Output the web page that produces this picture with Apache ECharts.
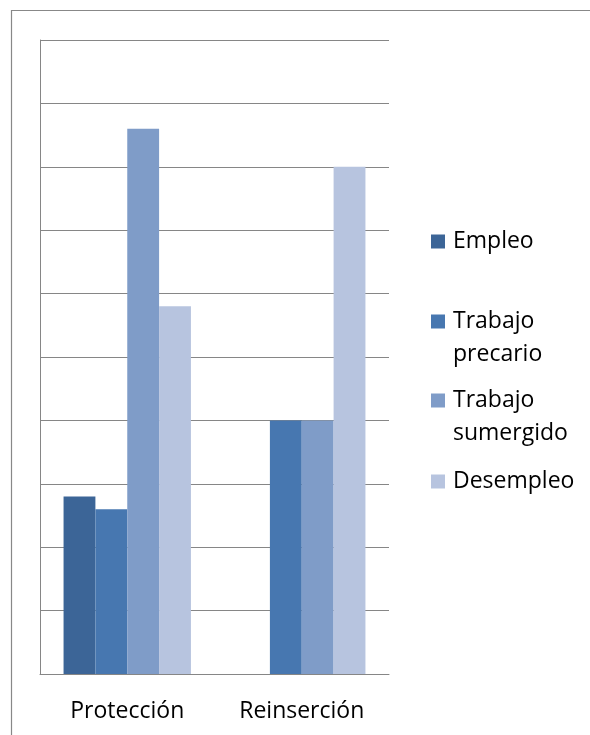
<!DOCTYPE html>
<html>
<head>
<meta charset="utf-8">
<script src="https://cdn.jsdelivr.net/npm/echarts@6/dist/echarts.min.js"></script>
<style>
  html, body { margin: 0; padding: 0; background: #fff; }
  #chart { width: 590px; height: 735px; }
</style>
</head>
<body>
<div id="chart"></div>
<script>
// datos
const categories = ["Protección", "Reinserción"];
const seriesNames = ["Empleo", "Trabajo precario", "Trabajo sumergido", "Desempleo"];
const legendLabels = ["Empleo", "Trabajo\nprecario", "Trabajo\nsumergido", "Desempleo"];
const empleo = [2.8, 0];
const precario = [2.6, 4];
const sumergido = [8.6, 4];
const desempleo = [5.8, 8];
const values = [empleo, precario, sumergido, desempleo];

const colors = ["#3c6597", "#4777b0", "#7f9cc8", "#b7c4df"];
const font = "'Open Sans', sans-serif";

let chart = echarts.init(document.getElementById("chart"));

// one legend per item so each one sits where the original put it
const legendTops = [225, 272, 351, 465];
const legends = seriesNames.map((name, i) => ({
  data: [name],
  orient: "vertical",
  left: 431,
  top: legendTops[i],
  padding: 0,
  itemWidth: 14,
  itemHeight: 14,
  icon: "rect",
  selectedMode: false,
  formatter: () => (legendLabels[i].indexOf("\n") > -1 ? " \n" + legendLabels[i] : legendLabels[i]),
  textStyle: {
    fontFamily: font,
    fontSize: 23,
    lineHeight: 33,
    color: "#000",
    padding: [0, 0, 0, 3]
  }
}));

const option = {
  animation: false,
  color: colors,
  grid: { left: 40, right: 201, top: 40, bottom: 61 },
  legend: legends,
  graphic: [
    {
      type: "rect",
      shape: { x: 11.5, y: 10.5, width: 700, height: 800 },
      style: { fill: "none", stroke: "#888", lineWidth: 1.2 },
      silent: true
    }
  ],
  xAxis: {
    type: "category",
    data: categories,
    axisTick: { show: false },
    axisLine: { lineStyle: { color: "#868686", width: 1 } },
    axisLabel: { fontFamily: font, fontSize: 23, color: "#000", margin: 26 }
  },
  yAxis: {
    type: "value",
    min: 0,
    max: 10,
    interval: 1,
    axisLabel: { show: false },
    axisTick: { show: false },
    axisLine: { show: true, lineStyle: { color: "#868686", width: 1 } },
    splitLine: { lineStyle: { color: "#868686", width: 1 } }
  },
  series: seriesNames.map((name, i) => ({
    name: name,
    type: "bar",
    data: values[i],
    barGap: "0%",
    barCategoryGap: "27%"
  }))
};

chart.setOption(option);
</script>
</body>
</html>
